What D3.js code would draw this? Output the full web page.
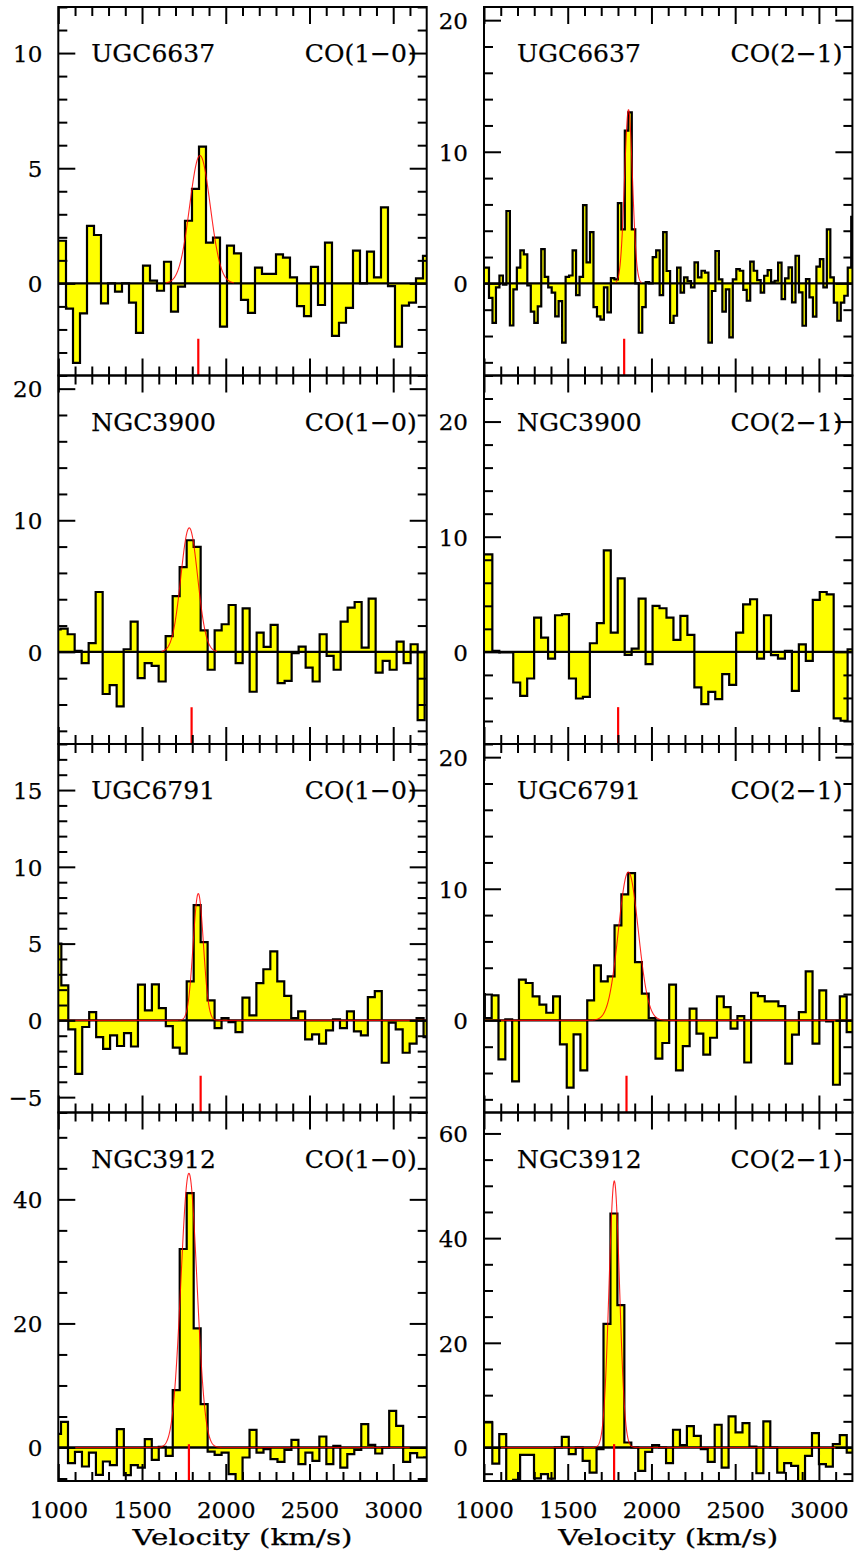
<!DOCTYPE html>
<html><head><meta charset="utf-8">
<script src="https://cdn.jsdelivr.net/npm/d3@7"></script>
<style>body{margin:0;background:#fff}</style>
</head><body>
<svg id="chart" width="855" height="1559" xmlns="http://www.w3.org/2000/svg"></svg>
<script>
// ---------------- data ----------------
const galaxies = ["UGC6637", "NGC3900", "UGC6791", "NGC3912"];
const transitions = ["CO(1\u22120)", "CO(2\u22121)"];
const xTickValues = [1000, 1500, 2000, 2500, 3000];
const xTitle = "Velocity (km/s)";

// spectra (channel values), one array per panel
const ugc6637_co10 = [1.85, 1.85, -1.1, -3.45, -1.3, 2.5, 2.1, -0.87, 0.0, -0.36, 0.0, -0.84, -2.15, 0.77, 0.12, -0.32, 0.94, -1.23, -0.14, 2.72, 4.1, 5.94, 1.77, 1.99, -1.88, 1.64, 1.3, -0.72, -1.28, 0.68, 0.41, 0.41, 1.26, 1.12, 0.26, -0.99, -1.42, 0.72, -0.94, 1.77, -2.28, -1.71, -1.06, 1.42, 0.0, 1.38, 0.26, 3.3, -0.12, -2.75, -0.97, -0.84, 0.22, 1.19];
const ugc6637_co21 = [1.2, 1.2, -1.1, -3.0, -0.3, 0.6, -0.1, 5.5, -3.2, -0.45, 1.2, 2.5, 2.2, -0.15, -2.15, -3.0, -1.75, 2.6, 0.5, -0.3, -0.7, -2.5, -1.35, -4.5, 0.5, 0.6, 2.5, -0.9, 0.5, 5.95, 1.6, 3.9, -1.8, -2.5, -2.75, -0.3, -2.2, 0.4, 0.3, 6.1, 4.1, 11.6, 13.0, 4.1, 0.0, -3.75, -1.8, 0.1, 0.0, 2.0, 2.5, -0.9, 3.9, 0.94, -3.0, -2.46, 1.19, -0.71, 0.46, 0.18, -0.3, 1.6, 0.46, 0.96, 0.81, -4.5, -0.58, 2.46, 0.3, -2.15, -0.46, -4.1, 0.3, 1.09, 0.96, -0.5, -1.32, 1.65, 0.96, 0.25, -0.71, 0.58, 1.01, 0.08, 0.2, 1.57, -1.19, 0.38, 1.22, -1.44, 2.1, -0.68, -3.22, 0.33, -1.06, -2.53, 1.27, 1.85, -0.3, 4.1, 0.46, -1.47, -2.84, -1.47, -0.94, 1.19, 5.06];
const ngc3900_co10 = [1.7, 1.77, 1.34, 0.08, -0.86, 0.66, 4.55, -3.2, -2.53, -4.14, 0.2, 2.3, -2.0, -0.86, -1.06, -2.25, 1.2, 4.24, 6.44, 8.48, 7.98, 1.64, -1.36, 1.64, 2.1, 3.56, -0.86, 3.3, -3.03, 1.46, 0.38, 2.05, -2.37, -2.2, -0.1, 0.4, -1.19, -2.25, 1.34, -0.3, -1.36, 2.3, 3.36, 3.79, 0.33, 4.04, -1.57, -0.68, -1.36, 0.78, -0.86, 0.58, -5.18, 0.0];
const ngc3900_co21 = [8.47, 8.47, 0.09, -0.05, -0.05, -2.66, -3.82, -2.31, 2.98, 1.24, -0.58, 3.18, 3.27, -2.31, -4.05, -3.9, 0.75, 2.49, 8.82, 1.68, 6.39, -0.26, 0.29, 4.62, -1.07, 3.99, 3.79, 2.98, 1.04, 3.12, 1.47, -3.09, -4.54, -3.47, -4.1, -1.94, -2.86, 1.68, 4.13, 4.57, -0.58, 3.18, -0.29, -0.58, 0.09, -3.38, 0.66, -0.78, 4.51, 5.2, 5.0, -5.78, -5.98, 0.23];
const ugc6791_co10 = [5.0, 2.28, -0.59, -3.48, -0.43, 0.54, -1.09, -1.85, -0.98, -1.67, -0.83, -1.7, 2.33, 0.65, 2.35, 0.8, -0.37, -1.78, -2.17, 2.54, 7.5, 5.1, 1.3, -0.5, 0.15, -0.11, -0.76, 1.48, 0.33, 2.43, 3.33, 4.5, 2.54, 1.59, 0.15, 0.59, -1.24, -0.91, -1.52, -0.65, 0.07, -0.5, 0.59, -0.72, -0.98, 1.52, 1.91, -2.76, -0.15, -0.59, -2.11, -1.52, 0.15, -1.09];
const ugc6791_co21 = [2.0, 0.18, 1.9, -2.96, 0.08, -4.63, 3.09, 2.84, 1.82, 1.19, 0.58, 1.82, -1.82, -5.11, -1.06, -3.8, 1.52, 4.18, 2.96, 3.34, 7.22, 9.57, 11.19, 4.43, 2.03, 0.18, -2.91, -1.72, 2.71, -3.8, -1.95, 0.89, -1.01, -2.61, -1.32, 1.82, 1.01, -0.63, 0.33, -3.2, 2.1, 1.85, 1.44, 1.44, 1.09, -3.29, -1.09, 0.63, 3.72, -1.77, 2.28, -0.08, -4.89, 1.82, -0.89];
const ngc3912_co10 = [2.2, 4.14, -2.53, -0.7, -3.06, -0.81, -4.4, -2.26, -2.85, 2.96, -4.46, -2.85, -3.23, 1.34, -1.99, 0.1, -1.34, 9.25, 32.0, 41.0, 19.2, 6.99, -0.65, -1.18, -0.81, -4.3, -7.0, -1.61, 2.85, -0.81, -0.27, -1.88, -2.31, -0.38, 1.24, -2.69, -0.81, -2.15, 1.77, -2.69, 0.27, -3.23, -1.08, -0.38, 3.76, 0.43, -0.97, 0.0, 5.91, 3.49, -2.31, -0.91, -1.61, -1.6];
const ngc3912_co21 = [4.79, 4.79, -3.07, 2.56, -8.0, -6.2, -1.41, -1.41, -5.88, -5.1, -5.94, 0.0, 2.04, -1.28, 0.0, -2.56, -4.79, -0.32, 23.6, 44.7, 27.2, 0.96, 0.0, -4.47, -0.83, 0.45, 0.0, -3.0, 3.39, 0.45, 4.09, 2.24, -0.32, -2.75, 4.35, -3.83, 5.94, 2.88, 4.66, 0.19, -4.92, 4.98, 0.0, -4.79, -3.0, -3.51, -8.0, -1.6, 2.75, -3.19, -3.64, 0.64, 2.36, -0.96];

// channel grid: centre of first channel and channel width (km/s) [row][col]
const chanStart = [[983.3, 998.6], [993.2, 987.4], [997.3, 984.6], [995.3, 987.4]];
const chanWidth = [[41.8, 20.8], [41.8, 41.6], [41.6, 40.77], [41.7, 41.5]];

// y ranges and tick steps [row][col]
const yDomains = [[[-4, 12], [-7, 21]], [[-7, 21], [-8, 24]], [[-6, 18], [-7, 21]], [[-5.4, 54], [-6.4, 64]]];
const yMajor = [[5, 10], [10, 10], [5, 10], [20, 20]];
const yMinor = [[1, 2], [2, 2], [1, 2], [5, 5]];

// gaussian fits [row][col] (null = no fit)
const fitAmp    = [[5.55, 13.2], [9.42, null], [8.26, 11.27], [44.2, 50.9]];
const fitCenter = [[1846, 1863], [1782, null], [1836, 1862], [1780, 1778]];
const fitFWHM   = [[145, 56], [118, null], [72, 140], [113, 74]];
const fitFullRange = [[false, false], [false, false], [true, true], [true, true]];

// systemic velocity markers [row][col]
const markerV = [[1836, 1837], [1796, 1801], [1850, 1851], [1780, 1777]];

const spectra = [[ugc6637_co10, ugc6637_co21], [ngc3900_co10, ngc3900_co21], [ugc6791_co10, ugc6791_co21], [ngc3912_co10, ngc3912_co21]];

// ---------------- layout ----------------
const colX = [[58.3, 426.7], [484, 852.4]];
const rowY = [7, 375.5, 744, 1112.5, 1481];
const FONT = "DejaVu Serif";
const svg = d3.select("#chart");

for (let r = 0; r < 4; r++) {
  for (let c = 0; c < 2; c++) {
    const x = d3.scaleLinear().domain([1000, 3200]).range(colX[c]);
    const y = d3.scaleLinear().domain(yDomains[r][c]).range([rowY[r + 1], rowY[r]]);
    const g = svg.append("g");
    const cid = `clip${r}${c}`;
    svg.append("clipPath").attr("id", cid).append("rect")
      .attr("x", colX[c][0]).attr("y", rowY[r])
      .attr("width", colX[c][1] - colX[c][0]).attr("height", rowY[r + 1] - rowY[r]);
    const body = g.append("g").attr("clip-path", `url(#${cid})`);

    const vals = spectra[r][c];
    const w = chanWidth[r][c];
    const pts = vals.map((v, i) => ({ e: chanStart[r][c] - w / 2 + i * w, v }));
    pts.push({ e: pts[pts.length - 1].e + w, v: vals[vals.length - 1] });

    const area = d3.area().x(d => x(d.e)).y0(y(0)).y1(d => y(d.v)).curve(d3.curveStepAfter);
    const line = d3.line().x(d => x(d.e)).y(d => y(d.v)).curve(d3.curveStepAfter);

    body.append("path").datum(pts).attr("d", area).attr("fill", "#ffff00").attr("stroke", "none");
    body.append("line").attr("x1", colX[c][0]).attr("x2", colX[c][1])
      .attr("y1", y(0)).attr("y2", y(0)).attr("stroke", "#000").attr("stroke-width", 2.4);
    body.append("path").datum(pts).attr("d", line).attr("fill", "none")
      .attr("stroke", "#000").attr("stroke-width", 2.2).attr("stroke-linejoin", "miter");

    // gaussian fit
    if (fitAmp[r][c] !== null) {
      const A = fitAmp[r][c], mu = fitCenter[r][c], sig = fitFWHM[r][c] / 2.3548;
      const lo = fitFullRange[r][c] ? 1000 : mu - 3.3 * sig;
      const hi = fitFullRange[r][c] ? 3200 : mu + 3.3 * sig;
      const vs = d3.range(lo, hi + 0.5, 1);
      const gl = d3.line().x(v => x(v)).y(v => y(A * Math.exp(-0.5 * ((v - mu) / sig) ** 2)));
      body.append("path").datum(vs).attr("d", gl).attr("fill", "none")
        .attr("stroke", "#ff0000").attr("stroke-width", 1.1).attr("stroke-opacity", 0.85);
    }

    // marker
    const [y0, y1] = yDomains[r][c];
    body.append("line").attr("x1", x(markerV[r][c])).attr("x2", x(markerV[r][c]))
      .attr("y1", y(y0)).attr("y2", y(y0 + 0.1 * (y1 - y0)))
      .attr("stroke", "#ff0000").attr("stroke-width", 2.2);

    // ticks
    const maj = yMajor[r][c], mnr = yMinor[r][c];
    const yMajVals = d3.range(Math.ceil(y0 / maj) * maj, y1 + 1e-9, maj);
    const yMinVals = d3.range(Math.ceil(y0 / mnr) * mnr, y1 + 1e-9, mnr).filter(v => Math.abs(v / maj - Math.round(v / maj)) > 1e-6);
    const xMinVals = d3.range(1100, 3200, 100).filter(v => v % 500 !== 0);

    const style = sel => {
      sel.select(".domain").remove();
      sel.selectAll("line").attr("stroke", "#000").attr("stroke-width", 2);
      sel.attr("font-family", FONT).attr("font-size", 23);
      sel.selectAll("text").attr("fill", "#000").attr("stroke", "#000").attr("stroke-width", 0.25);
    };
    const L = colX[c][0], R = colX[c][1], T = rowY[r], B = rowY[r + 1];

    g.append("g").attr("transform", `translate(${L},0)`)
      .call(d3.axisLeft(y).tickValues(yMajVals).tickSize(-17).tickPadding(16).tickFormat(d3.format("d"))).call(style)
      .selectAll("text").attr("dy", "0.36em");
    g.append("g").attr("transform", `translate(${L},0)`)
      .call(d3.axisLeft(y).tickValues(yMinVals).tickSize(-9).tickFormat("")).call(style);
    g.append("g").attr("transform", `translate(${R},0)`)
      .call(d3.axisRight(y).tickValues(yMajVals).tickSize(-17).tickFormat("")).call(style);
    g.append("g").attr("transform", `translate(${R},0)`)
      .call(d3.axisRight(y).tickValues(yMinVals).tickSize(-9).tickFormat("")).call(style);

    g.append("g").attr("transform", `translate(0,${T})`)
      .call(d3.axisTop(x).tickValues(xTickValues).tickSize(-17).tickFormat("")).call(style);
    g.append("g").attr("transform", `translate(0,${T})`)
      .call(d3.axisTop(x).tickValues(xMinVals).tickSize(-9).tickFormat("")).call(style);
    g.append("g").attr("transform", `translate(0,${B})`)
      .call(d3.axisBottom(x).tickValues(xTickValues).tickSize(-17).tickPadding(21)
        .tickFormat(r === 3 ? d3.format("d") : "")).call(style);
    g.append("g").attr("transform", `translate(0,${B})`)
      .call(d3.axisBottom(x).tickValues(xMinVals).tickSize(-9).tickFormat("")).call(style);

    // frame
    g.append("rect").attr("x", L).attr("y", T).attr("width", R - L).attr("height", B - T)
      .attr("fill", "none").attr("stroke", "#000").attr("stroke-width", 2);

    // labels
    g.append("text").attr("x", L + 33).attr("y", T + 55).attr("font-family", FONT)
      .attr("font-size", 25).attr("fill", "#000").attr("stroke", "#000").attr("stroke-width", 0.25)
      .text(galaxies[r]);
    g.append("text").attr("x", R - 10).attr("y", T + 55).attr("font-family", FONT)
      .attr("font-size", 25).attr("text-anchor", "end").attr("fill", "#000")
      .attr("stroke", "#000").attr("stroke-width", 0.25).text(transitions[c]);

    if (r === 3) {
      g.append("text").attr("x", (L + R) / 2).attr("y", 1545).attr("font-family", FONT)
        .attr("font-size", 23).attr("text-anchor", "middle").attr("fill", "#000")
        .attr("stroke", "#000").attr("stroke-width", 0.25)
        .attr("textLength", 220).attr("lengthAdjust", "spacingAndGlyphs").text(xTitle);
    }
  }
}
</script>
</body></html>
